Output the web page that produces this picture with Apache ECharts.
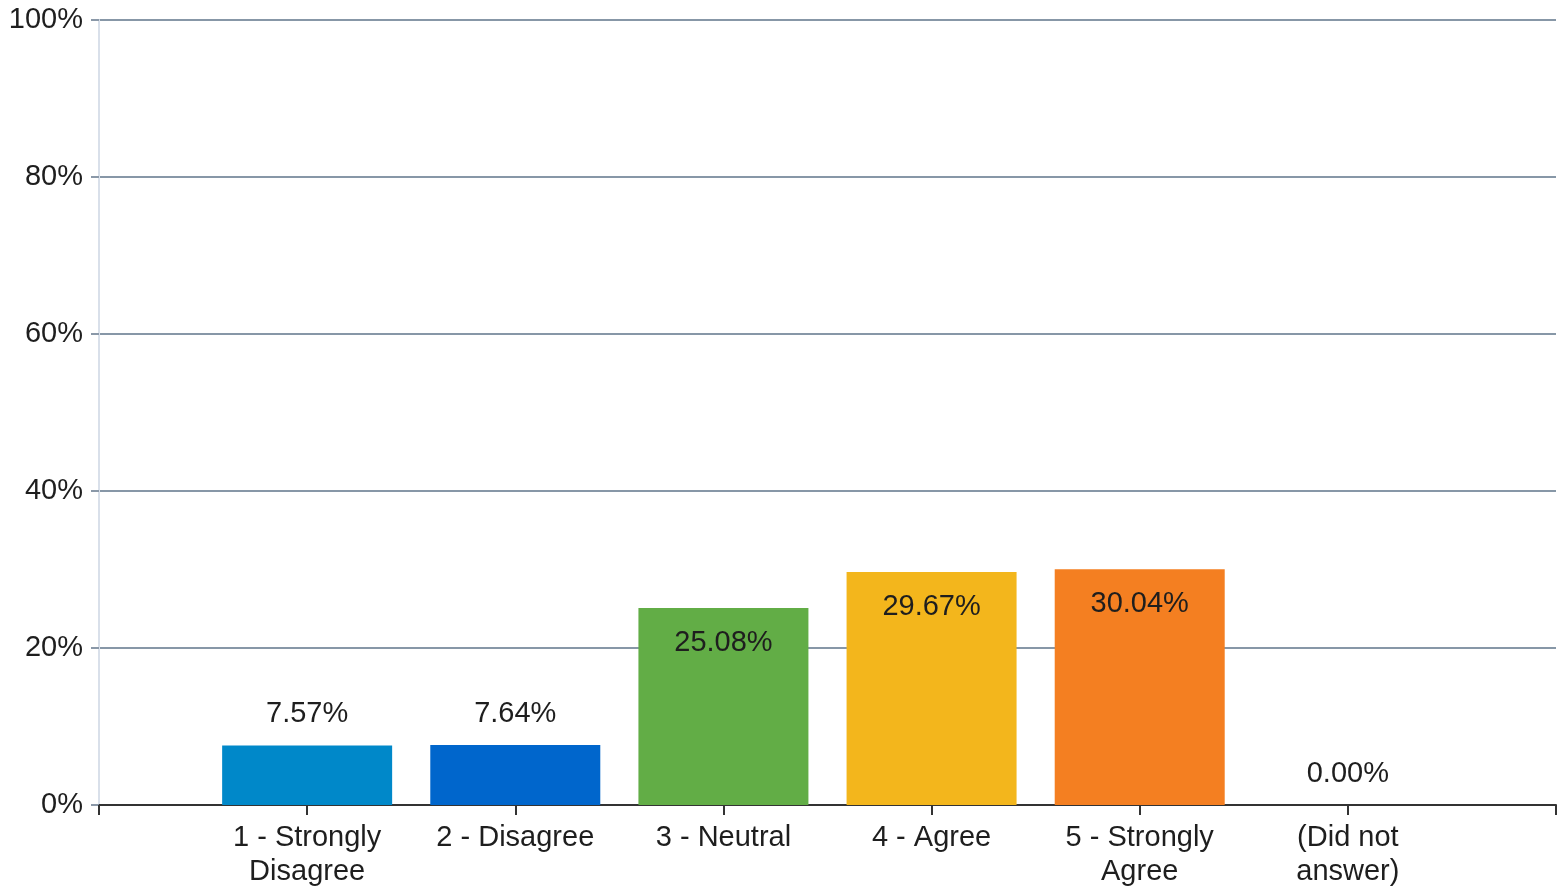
<!DOCTYPE html>
<html>
<head>
<meta charset="utf-8">
<script src="https://cdn.jsdelivr.net/npm/echarts@6/dist/echarts.min.js"></script>
<style>
  html, body { margin: 0; padding: 0; background: #ffffff; }
  #chart { width: 1566px; height: 893px; }
</style>
</head>
<body>
<div id="chart"></div>
<script>
// Response categories (blank slots pad both ends of the axis)
const categories = ['', '1 - Strongly\nDisagree', '2 - Disagree', '3 - Neutral', '4 - Agree', '5 - Strongly\nAgree', '(Did not\nanswer)', ''];
// Share of responses, in percent
const percentValues = [null, 7.57, 7.64, 25.08, 29.67, 30.04, 0.00, null];
// Bar fill per category
const barColors = [null, '#0088c9', '#0066cc', '#62ad46', '#f3b61c', '#f47f21', '#999999', null];
// Y axis tick values
const yTicks = [0, 20, 40, 60, 80, 100];

const FONT = 'Liberation Sans, Arial, sans-serif';
const TEXT = '#1e1e1e';

const seriesData = percentValues.map((v, i) => {
  if (v === null) return null;
  const outside = v < 10;
  return {
    value: v,
    itemStyle: { color: barColors[i] },
    label: {
      show: true,
      position: outside ? 'top' : 'insideTop',
      distance: outside ? 17 : 20,
      formatter: p => p.value.toFixed(2) + '%',
      color: TEXT,
      fontFamily: FONT,
      fontSize: 29
    }
  };
});

const chart = echarts.init(document.getElementById('chart'), null, { renderer: 'canvas' });
chart.setOption({
  animation: false,
  grid: { left: 99, right: 10, top: 20, bottom: 88, containLabel: false },
  xAxis: {
    type: 'category',
    data: categories,
    boundaryGap: false,
    axisLine: { show: true, lineStyle: { color: '#333333', width: 2 } },
    axisTick: { show: true, length: 10, lineStyle: { color: '#333333', width: 2 }, interval: 0 },
    axisLabel: {
      interval: 0,
      color: TEXT,
      fontFamily: FONT,
      fontSize: 29,
      lineHeight: 34,
      margin: 16
    },
    splitLine: { show: false }
  },
  yAxis: {
    type: 'value',
    min: yTicks[0],
    max: yTicks[yTicks.length - 1],
    interval: yTicks[1] - yTicks[0],
    axisLine: { show: true, lineStyle: { color: '#d9e0ea', width: 2 } },
    axisTick: { show: true, length: 8, lineStyle: { color: '#8a98a8', width: 2 } },
    axisLabel: {
      formatter: v => v + '%',
      color: TEXT,
      fontFamily: FONT,
      fontSize: 29,
      margin: 16,
      padding: [4, 0, 0, 0]
    },
    splitLine: { show: true, lineStyle: { color: '#8797a7', width: 2 } }
  },
  series: [{
    type: 'bar',
    data: seriesData,
    barWidth: 170,
    z: 3
  }]
});
</script>
</body>
</html>
